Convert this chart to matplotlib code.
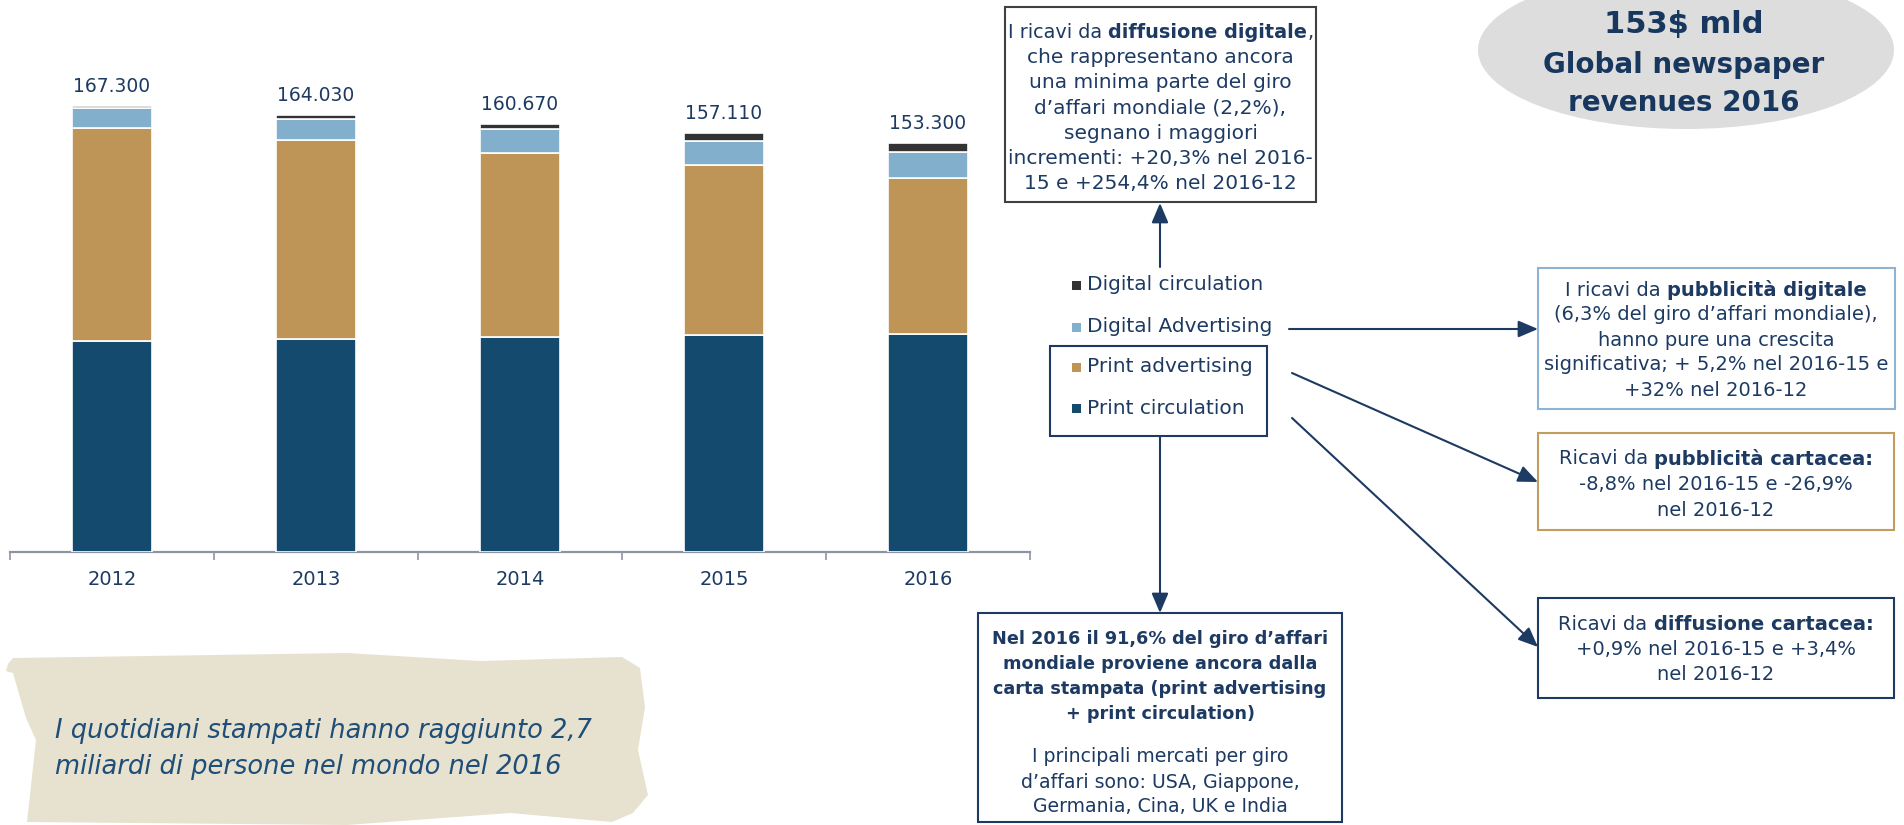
import matplotlib
matplotlib.use("Agg")
import matplotlib.pyplot as plt
from matplotlib.patches import Rectangle, Ellipse, Polygon, FancyArrowPatch
import numpy as np

# ---------------- data ----------------
years = ["2012", "2013", "2014", "2015", "2016"]
print_circulation = [79.2, 80.0, 80.6, 81.2, 81.9]
print_advertising = [79.8, 74.4, 69.2, 63.9, 58.3]
digital_advertising = [7.35, 8.1, 8.7, 9.2, 9.7]
digital_circulation = [0.95, 1.53, 2.17, 2.81, 3.4]
series_names = ["Print circulation", "Print advertising",
                "Digital Advertising", "Digital circulation"]
series_colors = ["#144A6E", "#BE9556", "#82AFCC", "#333333"]

NAVY = "#1D3A63"
plt.rcParams["font.family"] = ["DejaVu Sans"]

W, H = 1904, 825
fig = plt.figure(figsize=(W / 100, H / 100), dpi=100)
fig.patch.set_facecolor("white")

# ---------------- bar chart ----------------
base_px, top_px = 552, 72
ax = fig.add_axes([10 / W, (H - base_px) / H, 1020 / W, (base_px - top_px) / H])
x = np.arange(len(years))
series = [print_circulation, print_advertising, digital_advertising, digital_circulation]
bottom = np.zeros(len(years))
cont = None
for vals, col in zip(series, series_colors):
    cont = ax.bar(x, vals, 0.392, bottom=bottom, color=col,
                  edgecolor="white", linewidth=1.2, zorder=3)
    bottom = bottom + np.array(vals)
totals = np.round(bottom, 2)
labels = [f"{v * 1000:,.0f}".replace(",", ".") for v in totals]
ax.bar_label(cont, labels=labels, padding=7, fontsize=13.5, color=NAVY)
ax.set_xlim(-0.5, len(years) - 0.5)
ax.set_ylim(0, 180)
ax.set_yticks([])
for s in ["left", "right", "top"]:
    ax.spines[s].set_visible(False)
ax.spines["bottom"].set_color("#8F93A6")
ax.spines["bottom"].set_linewidth(1.6)
ax.set_xticks(x)
ax.set_xticklabels(years, fontsize=14, color=NAVY)
ax.tick_params(axis="x", which="major", length=0, pad=13)
ax.set_xticks(np.arange(-0.5, len(years)), minor=True)
ax.tick_params(axis="x", which="minor", length=5.5, width=1.2, color="#8F93A6")
ax.patch.set_alpha(0)

# ---------------- overlay in pixel coords ----------------
ov = fig.add_axes([0, 0, 1, 1], zorder=5)
ov.set_xlim(0, W)
ov.set_ylim(H, 0)
ov.axis("off")
renderer = fig.canvas.get_renderer()


def tw(text, size, weight="normal", style="normal"):
    t1 = ov.text(0, 0, "|" + text + "|", fontsize=size, fontweight=weight, fontstyle=style)
    t2 = ov.text(0, 0, "||", fontsize=size, fontweight=weight, fontstyle=style)
    w = t1.get_window_extent(renderer).width - t2.get_window_extent(renderer).width
    t1.remove()
    t2.remove()
    return w


def rich(xc, y, segs, size, color=NAVY):
    widths = [tw(t, size, "bold" if b else "normal") for t, b in segs]
    xx = xc - sum(widths) / 2
    for (t, b), w in zip(segs, widths):
        ov.text(xx, y, t, fontsize=size, fontweight="bold" if b else "normal",
                color=color, ha="left", va="center_baseline")
        xx += w


def box(x0, y0, x1, y1, color, lw=1.5):
    ov.add_patch(Rectangle((x0, y0), x1 - x0, y1 - y0, fill=False,
                           edgecolor=color, linewidth=lw))


def arrow(p0, p1):
    ov.add_patch(FancyArrowPatch(p0, p1, arrowstyle="-|>,head_length=0.8,head_width=0.34",
                                 mutation_scale=15, color=NAVY, lw=1.5,
                                 shrinkA=0, shrinkB=0))


# ellipse top-right
ov.add_patch(Ellipse((1686, 50), 416, 158, facecolor="#DDDDDD", edgecolor="none"))
ov.text(1684, 25, "153$ mld", fontsize=22, fontweight="bold", color="#17375E",
        ha="center", va="center")
ov.text(1684, 65, "Global newspaper", fontsize=20, fontweight="bold", color="#17375E",
        ha="center", va="center")
ov.text(1684, 103, "revenues 2016", fontsize=20, fontweight="bold", color="#17375E",
        ha="center", va="center")

# top box
box(1005, 7, 1316, 202, "#404040")
top_lines = [
    [("I ricavi da ", False), ("diffusione digitale", True), (",", False)],
    [("che rappresentano ancora", False)],
    [("una minima parte del giro", False)],
    [("d’affari mondiale (2,2%),", False)],
    [("segnano i maggiori", False)],
    [("incrementi: +20,3% nel 2016-", False)],
    [("15 e +254,4% nel 2016-12", False)],
]
for i, segs in enumerate(top_lines):
    rich(1160.5, 30 + i * 25.3, segs, 13.9 if i == 0 else 14.5)

# legend
leg_rows = [3, 2, 1, 0]
for k, si in enumerate(leg_rows):
    yy = [285, 327, 367, 408][k]
    ov.add_patch(Rectangle((1072, yy - 4.5), 9, 9, facecolor=series_colors[si], edgecolor="none"))
    ov.text(1087, yy, series_names[si], fontsize=14.5, color=NAVY, ha="left", va="center")
box(1050, 346, 1267, 436, NAVY)

# arrows
arrow((1160, 267), (1160, 203))
arrow((1160, 436), (1160, 613))
arrow((1289, 329), (1538, 329))
arrow((1292, 373), (1538, 482))
arrow((1292, 418), (1538, 647))

# right box 1
box(1538, 268, 1895, 409, "#8DB4D4")
r1 = [
    [("I ricavi da ", False), ("pubblicità digitale", True)],
    [("(6,3% del giro d’affari mondiale),", False)],
    [("hanno pure una crescita", False)],
    [("significativa; + 5,2% nel 2016-15 e", False)],
    [("+32% nel 2016-12", False)],
]
for i, segs in enumerate(r1):
    rich(1716, 288 + i * 25, segs, 14)

# right box 2
box(1538, 433, 1894, 530, "#C29D5E")
r2 = [
    [("Ricavi da ", False), ("pubblicità cartacea:", True)],
    [("-8,8% nel 2016-15 e -26,9%", False)],
    [("nel 2016-12", False)],
]
for i, segs in enumerate(r2):
    rich(1716, 457 + i * 25.5, segs, 14)

# right box 3
box(1538, 598, 1894, 698, NAVY)
r3 = [
    [("Ricavi da ", False), ("diffusione cartacea:", True)],
    [("+0,9% nel 2016-15 e +3,4%", False)],
    [("nel 2016-12", False)],
]
for i, segs in enumerate(r3):
    rich(1716, 622 + i * 25.5, segs, 14)

# bottom box
box(978, 613, 1342, 822, NAVY)
b_bold = ["Nel 2016 il 91,6% del giro d’affari", "mondiale proviene ancora dalla",
          "carta stampata (print advertising", "+ print circulation)"]
for i, t in enumerate(b_bold):
    rich(1160, 637 + i * 25, [(t, True)], 12.7)
b_norm = ["I principali mercati per giro", "d’affari sono: USA, Giappone,",
          "Germania, Cina, UK e India"]
for i, t in enumerate(b_norm):
    rich(1160, 755 + i * 25, [(t, False)], 13.6)

# parchment note
parch = [(13, 658), (347, 653), (480, 661), (622, 657), (640, 668), (645, 707),
         (638, 750), (648, 795), (633, 813), (612, 822), (510, 813), (347, 825),
         (27, 822), (36, 740), (26, 718), (13, 673), (6, 671), (8, 664)]
ov.add_patch(Polygon(parch, closed=True, facecolor="#E7E2CF", edgecolor="none", zorder=0))
ov.text(55, 731, "I quotidiani stampati hanno raggiunto 2,7", fontsize=18.5, fontstyle="italic",
        color="#1F4E79", ha="left", va="center")
ov.text(55, 767, "miliardi di persone nel mondo nel 2016", fontsize=18.5, fontstyle="italic",
        color="#1F4E79", ha="left", va="center")

fig.savefig("out.png", dpi=100)
